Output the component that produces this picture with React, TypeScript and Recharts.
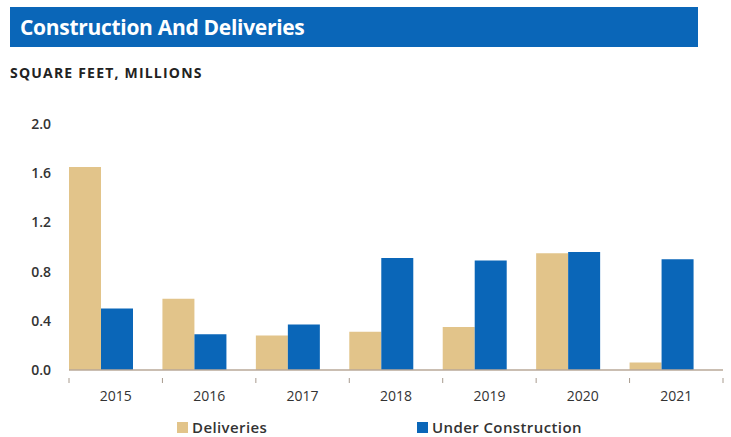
import React from 'react';
import { BarChart, Bar, XAxis, YAxis } from 'recharts';

const years = ['2015', '2016', '2017', '2018', '2019', '2020', '2021'];
const deliveries = [1.65, 0.58, 0.28, 0.31, 0.35, 0.95, 0.06];
const underConstruction = [0.5, 0.29, 0.37, 0.91, 0.89, 0.96, 0.9];
const yTicks = [0, 0.4, 0.8, 1.2, 1.6, 2.0];

const W = 731;
const H = 437;
const Y_AXIS_W = 69;
const RIGHT = 8;
const BAND = (W - Y_AXIS_W - RIGHT) / years.length;

const TAN = '#E2C48A';
const BLUE = '#0A66B8';
const FONT = '"Open Sans", "Noto Sans", sans-serif';

const data = years.map((year, i) => ({
  year,
  deliveries: deliveries[i],
  underConstruction: underConstruction[i],
}));

// labels sit in the band centre, tick marks between the categories
const YearTick = (props: any) => {
  const { x, y, payload, index } = props;
  const left = x - BAND / 2;
  return (
    <g>
      <line x1={left} y1={y} x2={left} y2={y + 5} stroke="#A89B8E" />
      {index === years.length - 1 && (
        <line x1={x + BAND / 2} y1={y} x2={x + BAND / 2} y2={y + 5} stroke="#A89B8E" />
      )}
      <text x={x} y={y + 23} textAnchor="middle" fontSize={14} fill="#333" fontFamily={FONT}>
        {payload.value}
      </text>
    </g>
  );
};

const LegendItem = ({ color, label, left }: { color: string; label: string; left: number }) => (
  <div style={{ position: 'absolute', left, top: 417, display: 'flex', alignItems: 'center' }}>
    <div style={{ width: 11, height: 11, background: color, marginRight: 4 }} />
    <span style={{ fontSize: 15, fontWeight: 600, color: '#333', fontFamily: FONT, letterSpacing: 0.4 }}>
      {label}
    </span>
  </div>
);

export default function App() {
  return (
    <div style={{ position: 'absolute', left: 0, top: 0, width: W, height: H, background: '#fff', fontFamily: FONT }}>
      <div
        style={{
          position: 'absolute',
          left: 10,
          top: 7,
          width: 688,
          height: 40,
          background: BLUE,
          color: '#fff',
          fontWeight: 700,
          fontSize: 21,
          lineHeight: '40px',
          paddingLeft: 10,
          boxSizing: 'border-box',
          letterSpacing: -0.3,
        }}
      >
        Construction And Deliveries
      </div>
      <div
        style={{
          position: 'absolute',
          left: 10,
          top: 63,
          fontSize: 14,
          fontWeight: 700,
          color: '#222',
          letterSpacing: 1.2,
        }}
      >
        SQUARE FEET, MILLIONS
      </div>

      <div style={{ position: 'absolute', left: 0, top: 0 }}>
        <BarChart
          width={W}
          height={H}
          data={data}
          margin={{ top: 124, right: RIGHT, left: 0, bottom: 37 }}
          barGap={0}
          barCategoryGap={0}
        >
          <YAxis
            width={Y_AXIS_W}
            domain={[0, 2]}
            ticks={yTicks}
            interval={0}
            axisLine={false}
            tickLine={false}
            tickMargin={12}
            tickFormatter={(v: number) => v.toFixed(1)}
            tick={{ fontSize: 14, fill: '#333', fontFamily: FONT, fontWeight: 600 }}
          />
          <XAxis
            dataKey="year"
            height={30}
            interval={0}
            tickLine={false}
            axisLine={{ stroke: '#B9A898', strokeWidth: 1.5 }}
            tick={<YearTick />}
          />
          <Bar dataKey="deliveries" fill={TAN} barSize={32} isAnimationActive={false} />
          <Bar dataKey="underConstruction" fill={BLUE} barSize={32} isAnimationActive={false} />
          {/* empty series that keeps the pair on the left of each band */}
          <Bar dataKey="spacer" fill="none" barSize={29} isAnimationActive={false} />
        </BarChart>
      </div>

      <LegendItem color={TAN} label="Deliveries" left={177} />
      <LegendItem color={BLUE} label="Under Construction" left={417} />
    </div>
  );
}
